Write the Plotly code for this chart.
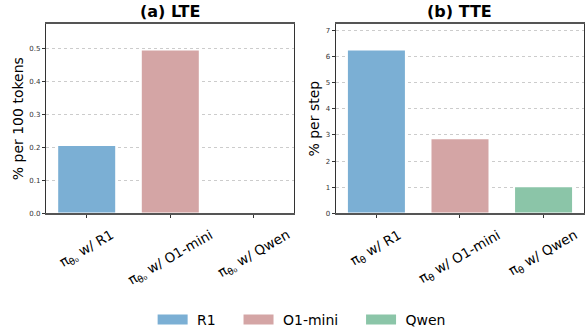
import plotly.graph_objects as go

models = ["R1", "O1-mini", "Qwen"]
colors = ["#7bafd4", "#d4a5a5", "#8bc5a8"]
lte_values = [0.207, 0.497, 0.002]
tte_values = [6.26, 2.86, 1.03]
lte_labels = ["π<sub>θ₀</sub> w/ R1", "π<sub>θ₀</sub> w/ O1-mini", "π<sub>θ₀</sub> w/ Qwen"]
tte_labels = ["π<sub>θ</sub> w/ R1", "π<sub>θ</sub> w/ O1-mini", "π<sub>θ</sub> w/ Qwen"]
lte_ticks = [0.0, 0.1, 0.2, 0.3, 0.4, 0.5]
tte_ticks = [0, 1, 2, 3, 4, 5, 6, 7]

FONT = "DejaVu Sans"
fig = go.Figure()

for i, m in enumerate(models):
    fig.add_trace(go.Bar(x=[i], y=[lte_values[i]], name=m, marker=dict(color=colors[i], line=dict(color="white", width=1.5)),
                         width=0.7, xaxis="x", yaxis="y", showlegend=False, legendgroup=m))
    fig.add_trace(go.Bar(x=[i], y=[tte_values[i]], name=m, marker=dict(color=colors[i], line=dict(color="white", width=1.5)),
                         width=0.7, xaxis="x2", yaxis="y2", showlegend=False, legendgroup=m))
# legend proxies (wide rectangular swatches like matplotlib)
for i, m in enumerate(models):
    fig.add_trace(go.Scatter(x=[None], y=[None], mode="lines", name=" " + m + "    ",
                             line=dict(color=colors[i], width=10), xaxis="x", yaxis="y",
                             showlegend=True, legendgroup=m))

ydom = [1 - 216.5 / 336, 1 - 24.5 / 336]
xcommon = dict(range=[-0.487, 2.48], tickvals=[0, 1, 2], showticklabels=False, ticks="outside", ticklen=3,
               tickcolor="#333", showline=True, linecolor="#555", linewidth=2, mirror=True, showgrid=False,
               zeroline=False)
ycommon = dict(ticks="outside", ticklen=3, tickcolor="#333", tickfont=dict(size=7, color="#333", family=FONT),
               showline=True, linecolor="#333", linewidth=1.3, mirror=True, showgrid=True, gridcolor="#cccccc",
               griddash="dot", gridwidth=1, zeroline=False)

fig.update_layout(
    xaxis=dict(domain=[46 / 585, 294 / 585], anchor="y", **xcommon),
    xaxis2=dict(domain=[335.7 / 585, 583.7 / 585], anchor="y2", **xcommon),
    yaxis=dict(domain=ydom, anchor="x", range=[0, 0.5 * 1.15], tickvals=lte_ticks,
               tickformat=".1f",
               title=dict(text="% per 100 tokens", font=dict(size=14, family=FONT, color="black"), standoff=2),
               **ycommon),
    yaxis2=dict(domain=ydom, anchor="x2", range=[0, 6.3 * 1.15], tickvals=tte_ticks,
                title=dict(text="% per step", font=dict(size=14, family=FONT, color="black"), standoff=2),
                **ycommon),
    width=585, height=336, margin=dict(l=0, r=0, t=0, b=0),
    plot_bgcolor="white", paper_bgcolor="white",
    font=dict(family=FONT, color="black"),
    barmode="overlay",
    legend=dict(orientation="h", x=0.531, xanchor="center", y=1 - 325 / 336, yanchor="middle",
                font=dict(size=14, family=FONT), itemwidth=30, traceorder="normal"),
)

annotations = [
    dict(text="<b>(a) LTE</b>", x=(46 + 294) / 2 / 585, y=1 - 12 / 336, xref="paper", yref="paper",
         showarrow=False, font=dict(size=16, family=FONT), xanchor="center", yanchor="middle"),
    dict(text="<b>(b) TTE</b>", x=(335.7 + 583.7) / 2 / 585, y=1 - 12 / 336, xref="paper", yref="paper",
         showarrow=False, font=dict(size=16, family=FONT), xanchor="center", yanchor="middle"),
]
for i in range(3):
    annotations.append(dict(text=lte_labels[i], x=i, xref="x", y=1 - 227 / 336, yref="paper", textangle=-30,
                            showarrow=False, xanchor="center", yanchor="top", font=dict(size=13.5, family=FONT)))
    annotations.append(dict(text=tte_labels[i], x=i, xref="x2", y=1 - 227 / 336, yref="paper", textangle=-30,
                            showarrow=False, xanchor="center", yanchor="top", font=dict(size=13.5, family=FONT)))
fig.update_layout(annotations=annotations)

fig.write_html("out.html")
